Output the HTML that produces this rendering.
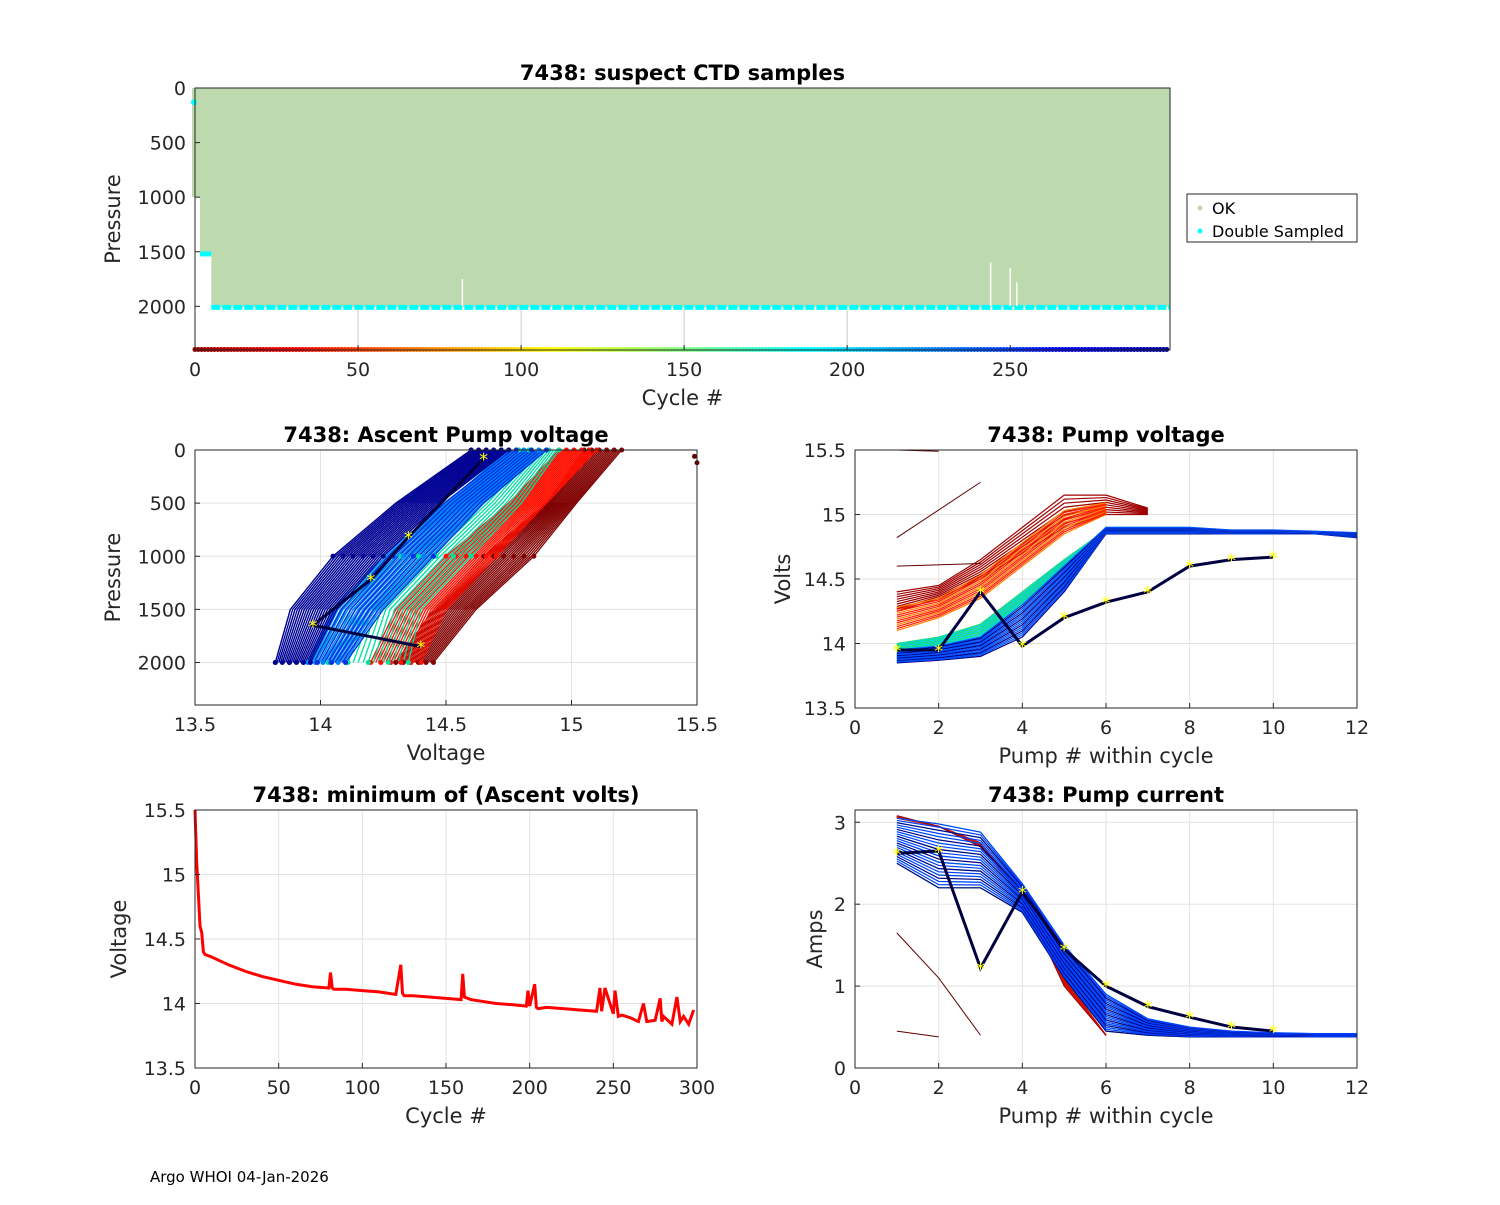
<!DOCTYPE html>
<html><head><meta charset="utf-8"><style>
body{margin:0;background:#fff;}
svg text{font-family:"DejaVu Sans","Liberation Sans",sans-serif;fill:#262626;}
svg text.star{fill:#ffff00;}
svg text.blk{fill:#000;}
</style></head><body>
<svg id="s" width="1500" height="1200" xmlns="http://www.w3.org/2000/svg">
<rect width="1500" height="1200" fill="#fff"/>
<g id="g"></g>
<text x="150" y="1182" font-size="15" class="blk">Argo WHOI 04-Jan-2026</text>
</svg>
<script>
// ---- data ----
const cycleTicks=[0,50,100,150,200,250];
const presTicks=[0,500,1000,1500,2000];
const voltTicks=[13.5,14,14.5,15,15.5];
const pumpTicks=[0,2,4,6,8,10,12];
const ampTicks=[0,1,2,3];
const minCycleTicks=[0,50,100,150,200,250,300];
const minCycles=[0,1,2,3,4,5,6,8,10,15,20,30,40,50,60,70,80,81,82,83,90,100,110,120,123,124,125,130,140,150,159,160,161,165,170,180,190,198,199,200,203,204,205,210,220,230,240,242,243,245,250,251,253,255,260,265,268,270,275,278,279,280,285,288,290,292,295,298];
const minVolts=[15.5,15.1,14.85,14.6,14.55,14.4,14.38,14.37,14.36,14.33,14.3,14.25,14.21,14.18,14.15,14.13,14.12,14.24,14.12,14.11,14.11,14.1,14.09,14.07,14.3,14.08,14.06,14.06,14.05,14.04,14.03,14.23,14.05,14.03,14.02,14.0,13.99,13.98,14.1,13.98,14.15,13.97,13.96,13.97,13.96,13.95,13.94,14.12,13.94,14.12,13.92,14.1,13.9,13.91,13.89,13.86,14.0,13.86,13.87,14.04,13.86,13.9,13.84,14.05,13.86,13.9,13.84,13.95];
const profPres=[2000,1500,1000,500,0];
const profBlueL=[13.82,13.88,14.05,14.3,14.6];
const profBlueR=[14.1,14.25,14.45,14.65,14.9];
const profCyanL=[13.95,14.05,14.25,14.5,14.75];
const profCyanR=[14.35,14.4,14.6,14.8,14.95];
const profRedL=[14.2,14.3,14.5,14.75,14.95];
const profRedR=[14.4,14.5,14.7,14.9,15.1];
const profDRedL=[14.3,14.45,14.65,14.9,15.05];
const profDRedR=[14.45,14.62,14.85,15.02,15.2];
const blackAscV=[14.4,13.97,14.2,14.35,14.65];
const blackAscP=[1850,1650,1220,820,80];
const pumpNums=[1,2,3,4,5,6,7,8,9,10,11,12];
const pvDRedL=[14.25,14.35,14.5,14.7,14.9,15.0,15.0];
const pvDRedH=[14.4,14.45,14.65,14.9,15.15,15.15,15.05];
const pvRed=[14.1,14.2,14.35,14.6,14.85,15.0];
const pvGreen=[14.0,14.05,14.15,14.4,14.65,14.88,14.87,14.86];
const pvBlueL=[13.85,13.87,13.9,14.05,14.4,14.85,14.85,14.85,14.85,14.85,14.85,14.82];
const pvBlueH=[13.95,13.98,14.05,14.3,14.6,14.9,14.9,14.9,14.88,14.88,14.87,14.86];
const pvBlack=[13.95,13.95,14.4,13.98,14.2,14.32,14.4,14.6,14.65,14.67];
const pcDRed=[3.08,2.95,2.7,2.1,1.0,0.4];
const pcRed=[3.05,2.95,2.75,2.15,1.1,0.4];
const pcBlueH=[3.05,2.98,2.88,2.25,1.5,0.9,0.6,0.5,0.45,0.43,0.42,0.42];
const pcBlueL=[2.5,2.2,2.2,1.9,1.1,0.45,0.4,0.38,0.38,0.38,0.38,0.38];
const pcBlack=[2.62,2.65,1.22,2.15,1.45,1.0,0.75,0.62,0.5,0.45];
// ---- rendering ----
const NS="http://www.w3.org/2000/svg";const G=document.getElementById('g');
function el(t,a,p){const e=document.createElementNS(NS,t);for(const k in a)e.setAttribute(k,a[k]);(p||G).appendChild(e);return e;}
function jet(t){t=Math.max(0,Math.min(1,t));const f=x=>Math.round(255*Math.max(0,Math.min(1,1.5-Math.abs(4*t-x))));return `rgb(${f(3)},${f(2)},${f(1)})`;}
function stars(p,xs,ys,X,Y){xs.forEach((v,i)=>{const t=el('text',{x:X(v),y:Y(ys[i])+7,'font-size':18,'text-anchor':'middle',class:'star'},p);t.textContent='*';});}
function axes(o){
 const X=v=>o.x0+(v-o.xmin)/(o.xmax-o.xmin)*(o.x1-o.x0);
 const Y=o.rev?v=>o.y0+(v-o.ymin)/(o.ymax-o.ymin)*(o.y1-o.y0):v=>o.y1-(v-o.ymin)/(o.ymax-o.ymin)*(o.y1-o.y0);
 const g=el('g',{});
 
 
 el('rect',{x:o.x0,y:o.y0,width:o.x1-o.x0,height:o.y1-o.y0,fill:'#fff'},g);
 if(o.grid){o.xt.forEach(v=>el('line',{x1:X(v),x2:X(v),y1:o.y0,y2:o.y1,stroke:'#e3e3e3'},g));o.yt.forEach(v=>el('line',{x1:o.x0,x2:o.x1,y1:Y(v),y2:Y(v),stroke:'#e3e3e3'},g));}
 const plot=el('g',{},g);
 
 
 o.draw(plot,X,Y);
 el('rect',{x:o.x0,y:o.y0,width:o.x1-o.x0,height:o.y1-o.y0,fill:'none',stroke:'#262626','stroke-width':1},g);
 o.xt.forEach(v=>{el('line',{x1:X(v),x2:X(v),y1:o.y1,y2:o.y1-5,stroke:'#262626'},g);const t=el('text',{x:X(v),y:o.y1+26,'font-size':19,'text-anchor':'middle'},g);t.textContent=v;});
 o.yt.forEach(v=>{el('line',{x1:o.x0,x2:o.x0+5,y1:Y(v),y2:Y(v),stroke:'#262626'},g);const t=el('text',{x:o.x0-9,y:Y(v)+7,'font-size':19,'text-anchor':'end'},g);t.textContent=v;});
 let t=el('text',{x:(o.x0+o.x1)/2,y:o.y0-8,'font-size':21,'font-weight':'bold','text-anchor':'middle',class:'blk'},g);t.textContent=o.title;
 t=el('text',{x:(o.x0+o.x1)/2,y:o.y1+55,'font-size':21,'text-anchor':'middle'},g);t.textContent=o.xl;
 const cy=(o.y0+o.y1)/2;t=el('text',{x:o.ylx,y:cy,'font-size':21,'text-anchor':'middle',transform:`rotate(-90 ${o.ylx} ${cy})`},g);t.textContent=o.yl;
}
function pl(p,xs,ys,X,Y,c,w){return el('polyline',{points:xs.map((x,i)=>X(x)+','+Y(ys[i])).join(' '),fill:'none',stroke:c,'stroke-width':w||1},p);}
function mix(a,b,f){return a.map((v,i)=>v+(b[i]-v)*f);}
// Panel 1
axes({name:'ctd-samples-panel',x0:195,x1:1170,y0:88,y1:350,xmin:0,xmax:299,ymin:0,ymax:2400,rev:true,xt:cycleTicks,yt:presTicks,title:'7438: suspect CTD samples',xl:'Cycle #',yl:'Pressure',ylx:120,draw:(p,X,Y)=>{
 const a=el('polygon',{points:`192,${Y(0)} ${X(299)},${Y(0)} ${X(299)},${Y(2010)} ${X(5)},${Y(2010)} ${X(5)},${Y(1520)} ${X(1.5)},${Y(1520)} ${X(1.5)},${Y(1000)} 192,${Y(1000)}`,fill:'#bddaaf'},p);
 
 el('line',{x1:X(5),x2:X(299),y1:Y(2010),y2:Y(2010),stroke:'#00ffff','stroke-width':5,'stroke-dasharray':'9 2'},p);
 el('line',{x1:X(1.5),x2:X(5),y1:Y(1520),y2:Y(1520),stroke:'#00ffff','stroke-width':5},p);
 el('circle',{cx:194,cy:Y(130),r:3,fill:'#00ffff'},p);
 [82,244,250,252].forEach((c,i)=>el('line',{x1:X(c),x2:X(c),y1:Y([1750,1600,1650,1780][i]),y2:Y(2000),stroke:'#fff','stroke-width':1.5},p));
 [50,100,150,200].forEach(c=>el('line',{x1:X(c),x2:X(c),y1:Y(2030),y2:Y(2380),stroke:'#ccc','stroke-width':1},p));
 for(let c=0;c<=298;c++){const d=el('circle',{cx:X(c),cy:Y(2395),r:2.5,fill:jet(1-c/298*0.95-0.025)},p);}
}});
{const lg=el('g',{});
el('rect',{x:1187,y:194,width:170,height:48,fill:'#fff',stroke:'#262626'},lg);
el('circle',{cx:1200,cy:208,r:2.5,fill:'#bddaaf'},lg);el('circle',{cx:1200,cy:231,r:2.5,fill:'#00ffff'},lg);
let t=el('text',{x:1212,y:214,'font-size':16,class:'blk'},lg);t.textContent='OK';
t=el('text',{x:1212,y:237,'font-size':16,class:'blk'},lg);t.textContent='Double Sampled';}
// Panel 2
axes({name:'ascent-pump-voltage-panel',x0:195,x1:697,y0:450,y1:705,xmin:13.5,xmax:15.5,ymin:0,ymax:2400,rev:true,grid:true,xt:voltTicks,yt:presTicks,title:'7438: Ascent Pump voltage',xl:'Voltage',yl:'Pressure',ylx:120,draw:(p,X,Y)=>{
 const groups=[[profDRedL,profDRedR,'#800000'],[profRedL,profRedR,'#ff1000'],[profCyanL,profCyanR,'#00e0a0'],[profCyanL,profBlueR,'#0080ff'],[profBlueL,profBlueR,'#0030e0'],[profBlueL,mix(profBlueL,profBlueR,0.5),'#000090']];
 groups.forEach(([L,R,c])=>{for(let k=0;k<=20;k++){pl(p,mix(L,R,k/20),profPres,X,Y,c,1.3);}});
 groups.forEach(([L,R,c])=>{for(let k=0;k<=5;k++){const v=mix(L,R,k/5);v.forEach((x,i)=>{if(i%2==0)el('circle',{cx:X(x),cy:Y(profPres[i]),r:2.5,fill:c},p);});}});
 pl(p,blackAscV,blackAscP,X,Y,'#000040',3);
 stars(p,blackAscV,blackAscP,X,Y);
 el('circle',{cx:X(15.49),cy:Y(60),r:2.5,fill:'#600000'},p);el('circle',{cx:X(15.5),cy:Y(120),r:2.5,fill:'#600000'},p);
}});
// Panel 3
axes({name:'pump-voltage-panel',x0:855,x1:1357,y0:450,y1:708,xmin:0,xmax:12,ymin:13.5,ymax:15.5,grid:true,xt:pumpTicks,yt:voltTicks,title:'7438: Pump voltage',xl:'Pump # within cycle',yl:'Volts',ylx:790,draw:(p,X,Y)=>{
 for(let k=0;k<=8;k++){const v=mix(pvDRedL,pvDRedH,k/8);pl(p,pumpNums.slice(0,7),v,X,Y,'#a00000',1.2);}
 for(let k=0;k<=12;k++){const v=mix(pvRed,pvDRedH.slice(0,6),k/12*0.6);pl(p,pumpNums.slice(0,6),v,X,Y,k%3==0?'#ff8000':'#ff2000',1.2);}
 for(let k=0;k<=10;k++){const v=mix(pvGreen,pvBlueH.slice(0,8),k/10);pl(p,pumpNums.slice(0,8),v,X,Y,k%2?'#00d0ff':'#20e060',1.2);}
 for(let k=0;k<=16;k++){const v=mix(pvBlueL,pvBlueH,k/16);pl(p,pumpNums.slice(0,v.length),v,X,Y,k%3?'#0050ff':'#000080',1.2);}
 pl(p,[1,3],[14.82,15.25],X,Y,'#600000');pl(p,[1,2],[15.5,15.49],X,Y,'#600000');pl(p,[1,3],[14.6,14.62],X,Y,'#600000');
 pl(p,pumpNums.slice(0,10),pvBlack,X,Y,'#000040',3);
 stars(p,pumpNums.slice(0,10),pvBlack,X,Y);
}});
// Panel 4
axes({name:'minimum-ascent-volts-panel',x0:195,x1:697,y0:810,y1:1068,xmin:0,xmax:300,ymin:13.5,ymax:15.5,grid:true,xt:minCycleTicks,yt:voltTicks,title:'7438: minimum of (Ascent volts)',xl:'Cycle #',yl:'Voltage',ylx:126,draw:(p,X,Y)=>{
 const l=pl(p,minCycles,minVolts,X,Y,'#ff0000',3);
}});
// Panel 5
axes({name:'pump-current-panel',x0:855,x1:1357,y0:810,y1:1068,xmin:0,xmax:12,ymin:0,ymax:3.15,grid:true,xt:pumpTicks,yt:ampTicks,title:'7438: Pump current',xl:'Pump # within cycle',yl:'Amps',ylx:822,draw:(p,X,Y)=>{
 for(let k=0;k<=8;k++){pl(p,pumpNums.slice(0,6),mix(pcRed,pcDRed,k/8),X,Y,k%2?'#ff2000':'#a00000',1.2);}
 for(let k=0;k<=10;k++){const v=mix(pcBlueL,pcBlueH,k/10).slice(0,8);pl(p,pumpNums.slice(0,8),v,X,Y,k%2?'#00d0ff':'#20e080',1.2);}
 for(let k=0;k<=20;k++){const v=mix(pcBlueL,pcBlueH,k/20);pl(p,pumpNums,v,X,Y,k%3?'#0040ff':'#000080',1.2);}
 pl(p,[1,2,3],[1.65,1.1,0.4],X,Y,'#600000');pl(p,[1,2],[0.45,0.38],X,Y,'#600000');
 pl(p,pumpNums.slice(0,10),pcBlack,X,Y,'#000040',3);
 stars(p,pumpNums.slice(0,10),pcBlack,X,Y);
}});
</script>
</body></html>
